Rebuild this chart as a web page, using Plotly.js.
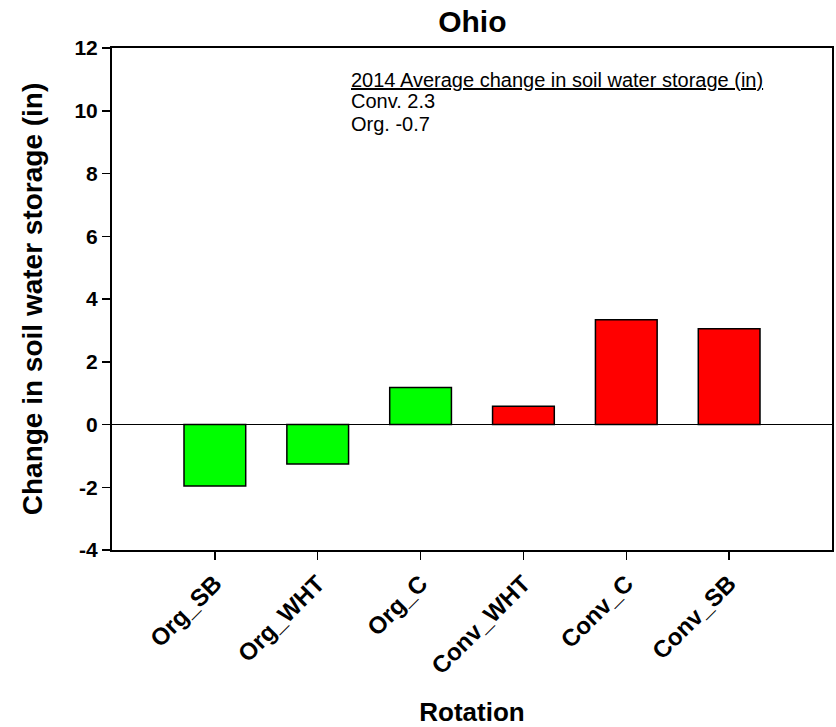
<!DOCTYPE html>
<html>
<head>
<meta charset="utf-8">
<script src="https://cdn.plot.ly/plotly-3.0.1.min.js"></script>
<style>html,body{margin:0;padding:0;background:#fff;}#chart{width:836px;height:727px;}</style>
</head>
<body>
<div id="chart"></div>
<script>
// Data
const categories = ["Org_SB", "Org_WHT", "Org_C", "Conv_WHT", "Conv_C", "Conv_SB"];
const values = [-1.96, -1.26, 1.18, 0.58, 3.34, 3.05];
const systems = ["Org", "Org", "Org", "Conv", "Conv", "Conv"];
const yTickVals = [-4, -2, 0, 2, 4, 6, 8, 10, 12];
const yTickText = ["-4", "-2", "0", "2", "4", "6", "8", "10", "12"];
const noteLines = ["<u>2014 Average change in soil water storage (in)</u>", "Conv. 2.3", "Org. -0.7"];

const colorFor = {Org: "#00ff00", Conv: "#ff0000"};
const FONT = "Liberation Sans, Arial, sans-serif";

const trace = {
  type: "bar",
  x: categories,
  y: values,
  width: 0.6,
  marker: {color: systems.map(s => colorFor[s]), line: {color: "#000", width: 1.5}},
  hoverinfo: "x+y"
};

const noteY = [0.936, 0.894, 0.848];
const annotations = noteLines.map((t, i) => ({
  text: t, xref: "paper", yref: "paper", x: 0.329, y: noteY[i],
  xanchor: "left", yanchor: "middle", showarrow: false, align: "left",
  font: {family: FONT, size: 20, color: "#000"}
}));

const layout = {
  width: 836, height: 727,
  margin: {l: 112, r: 4, t: 48, b: 177},
  paper_bgcolor: "#fff", plot_bgcolor: "#fff",
  showlegend: false,
  title: {text: "<b>Ohio</b>", x: 0.565, xanchor: "center", y: 0.97, yanchor: "middle",
          font: {family: FONT, size: 30, color: "#000"}},
  xaxis: {
    type: "category", range: [-1, 6], automargin: false,
    showline: true, linecolor: "#000", linewidth: 2, mirror: true,
    ticks: "outside", ticklen: 8, tickwidth: 1.5, tickcolor: "#000",
    tickangle: -45, showgrid: false,
    tickfont: {family: FONT, size: 24, color: "#000", weight: "bold"},
    title: {text: "<b>Rotation</b>", font: {family: FONT, size: 26, color: "#000"}, standoff: 27}
  },
  yaxis: {
    range: [-4, 12], tickmode: "array", tickvals: yTickVals, ticktext: yTickText, automargin: false,
    showline: true, linecolor: "#000", linewidth: 2, mirror: true,
    ticks: "outside", ticklen: 8, tickwidth: 1.5, tickcolor: "#000",
    showgrid: false, zeroline: true, zerolinecolor: "#000", zerolinewidth: 1.5,
    tickfont: {family: FONT, size: 21, color: "#000", weight: "bold"},
    title: {text: "<b>Change in soil water storage (in)</b>", font: {family: FONT, size: 28, color: "#000"}, standoff: 24}
  },
  annotations: annotations
};

Plotly.newPlot("chart", [trace], layout, {displayModeBar: false, staticPlot: true});
</script>
</body>
</html>
